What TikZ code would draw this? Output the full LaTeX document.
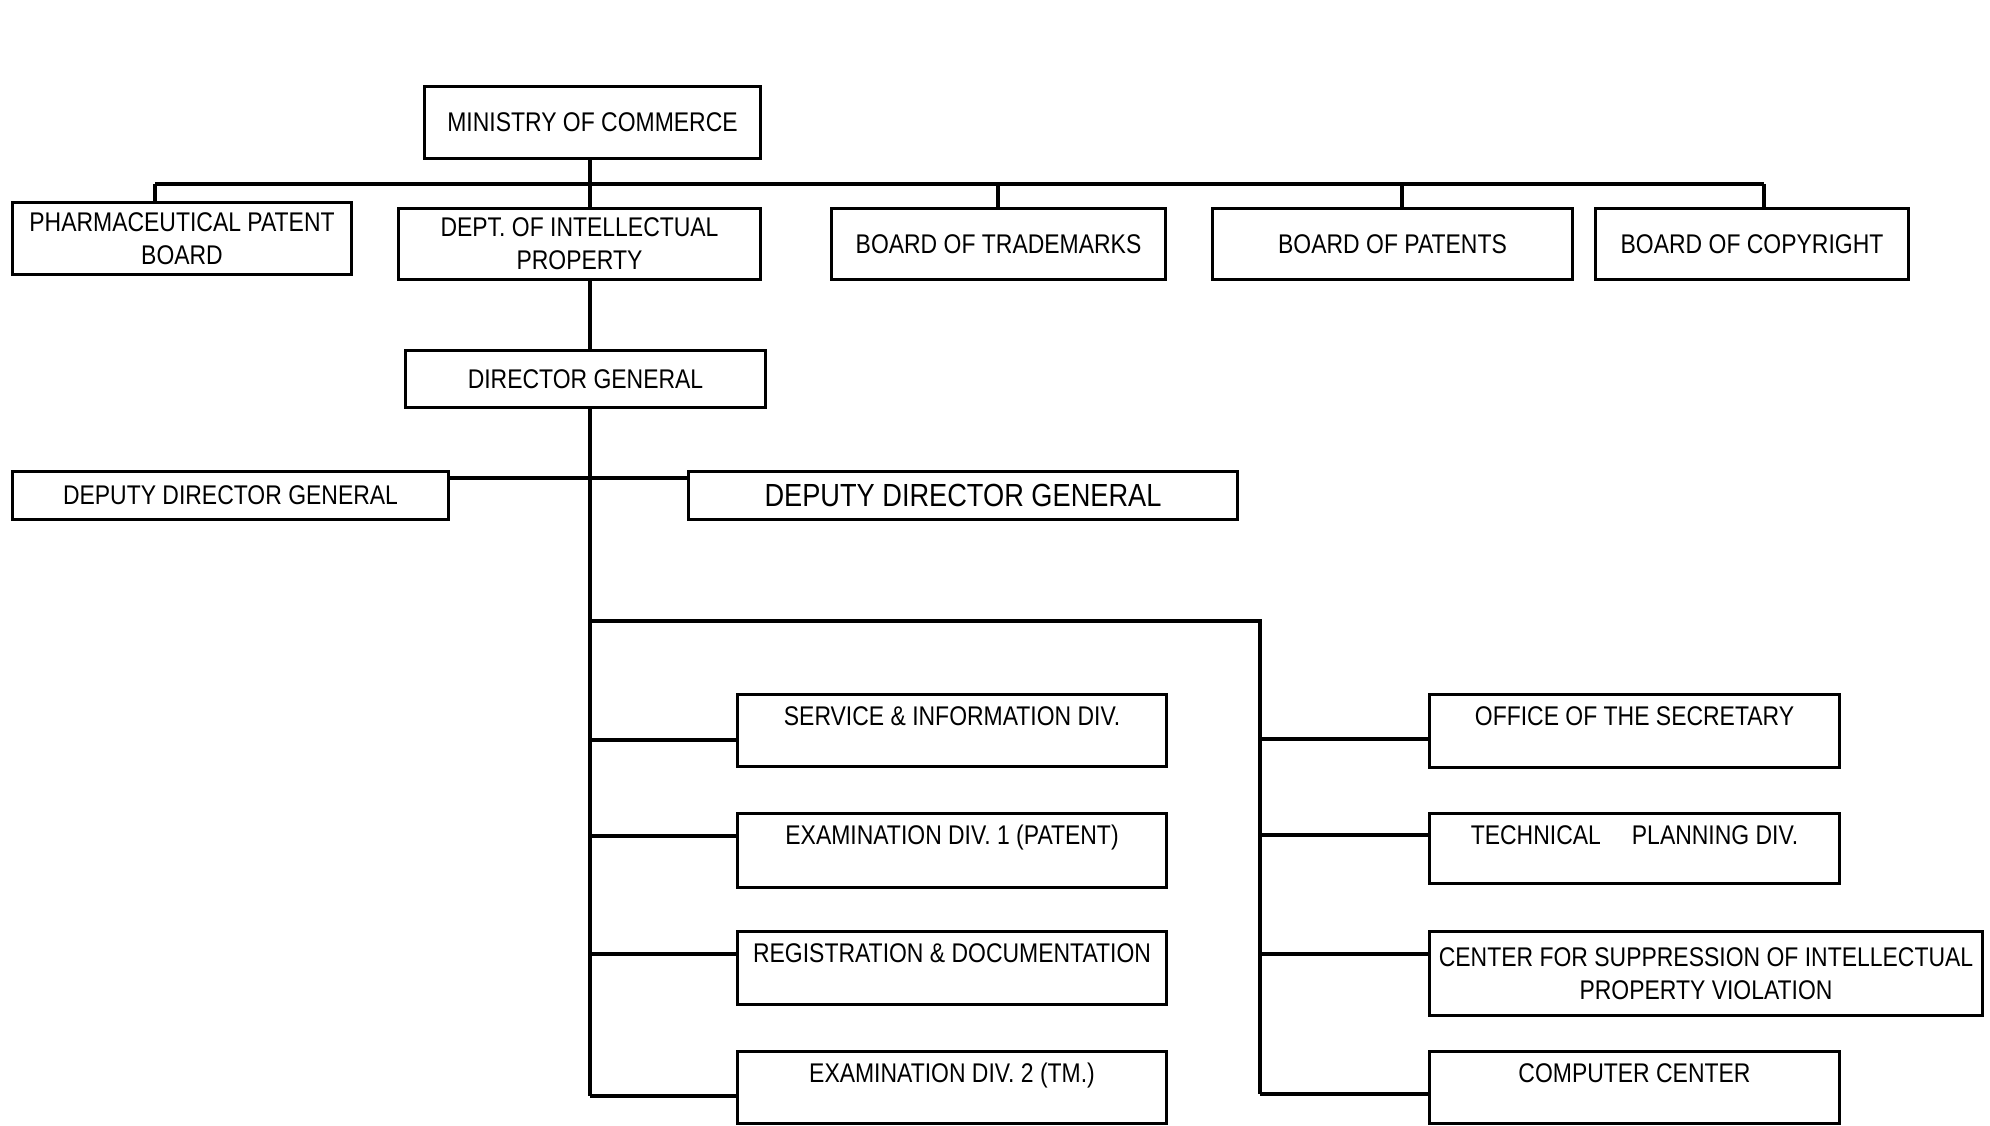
\documentclass[tikz,border=0pt]{standalone}
\usepackage{fontspec}
\newfontfamily\lab[FakeStretch=0.85]{Liberation Sans}
\begin{document}
\begin{tikzpicture}[x=0.5pt,y=-0.5pt,
  box/.style={draw, line width=1.5pt, inner sep=0pt, anchor=north west,
    font=\lab\fontsize{13.5}{16.5}\selectfont, align=center},
  divbox/.style={box, text height=15.5pt, text depth=#1},
  link/.style={line width=1.6pt}]
\useasboundingbox (0,0) rectangle (1990,1125);

% top level
\node[box, minimum width=168pt, minimum height=36pt] (min) at (423,85) {MINISTRY OF COMMERCE};
\node[box, minimum width=169.5pt, minimum height=36pt] (pharma) at (11,201) {PHARMACEUTICAL PATENT\\BOARD};
\node[box, minimum width=181pt, minimum height=35.5pt] (dept) at (397,207) {DEPT. OF INTELLECTUAL\\PROPERTY};
\node[box, minimum width=167pt, minimum height=35.5pt] (tm) at (830,207) {BOARD OF TRADEMARKS};
\node[box, minimum width=180pt, minimum height=35.5pt] (pat) at (1211,207) {BOARD OF PATENTS};
\node[box, minimum width=156.5pt, minimum height=35.5pt] (copy) at (1594,207) {BOARD OF COPYRIGHT};

% directors
\node[box, minimum width=180pt, minimum height=28.5pt] (dg) at (404,349) {DIRECTOR GENERAL};
\node[box, minimum width=218pt, minimum height=24pt] (dl) at (11,470) {DEPUTY DIRECTOR GENERAL};
\node[box, minimum width=274.5pt, minimum height=24pt, font=\lab\fontsize{16}{18}\selectfont] (dr) at (687,470) {DEPUTY DIRECTOR GENERAL};

% divisions, left column
\node[divbox=20.5pt, minimum width=214.5pt] (svc) at (736,693) {SERVICE \& INFORMATION DIV.};
\node[divbox=21.5pt, minimum width=214.5pt] (ex1) at (736,812) {EXAMINATION DIV. 1 (PATENT)};
\node[divbox=21pt, minimum width=214.5pt] (reg) at (736,930) {REGISTRATION \& DOCUMENTATION};
\node[divbox=20.5pt, minimum width=214.5pt] (ex2) at (736,1050) {EXAMINATION DIV. 2 (TM.)};

% divisions, right column
\node[divbox=21pt, minimum width=205pt] (off) at (1428,693) {OFFICE OF THE SECRETARY};
\node[divbox=19.5pt, minimum width=205pt] (tech) at (1428,812) {TECHNICAL\hspace{1.15em}PLANNING DIV.};
\node[box, minimum width=276.5pt, minimum height=42pt] (ctr) at (1428,930) {CENTER FOR SUPPRESSION OF INTELLECTUAL\\PROPERTY VIOLATION};
\node[divbox=20.5pt, minimum width=205pt] (comp) at (1428,1050) {COMPUTER CENTER};

% routing points
\coordinate (busL) at (155,184);
\coordinate (busR) at (1764,184);
\coordinate (spine) at (590,184);
\coordinate (tmx) at (998,184);
\coordinate (patx) at (1402,184);
\coordinate (dline) at (0,478);
\coordinate (jL) at (590,621);
\coordinate (jR) at (1260,621);
\coordinate (r1) at (0,740);
\coordinate (r2) at (0,836);
\coordinate (r3) at (0,954);
\coordinate (r4) at (0,1096);
\coordinate (q1) at (0,739);
\coordinate (q2) at (0,835);
\coordinate (q3) at (0,954);
\coordinate (q4) at (0,1094);

% ministry level
\draw[link] (busL) -- (busR);
\draw[link] (busL) -- (busL |- pharma.north);
\draw[link] (spine |- min.south) -- (spine |- dept.north);
\draw[link] (tmx) -- (tmx |- tm.north);
\draw[link] (patx) -- (patx |- pat.north);
\draw[link] (busR) -- (busR |- copy.north);

% department spine
\draw[link] (spine |- dept.south) -- (spine |- dg.north);
\draw[link] (spine |- dg.south) -- (spine |- r4);
\draw[link] (dl.east |- dline) -- (dr.west |- dline);

% division branches
\draw[link] (jL) -- (jR) -- (jR |- q4);
\draw[link] (spine |- r1) -- (svc.west |- r1);
\draw[link] (spine |- r2) -- (ex1.west |- r2);
\draw[link] (spine |- r3) -- (reg.west |- r3);
\draw[link] (spine |- r4) -- (ex2.west |- r4);
\draw[link] (jR |- q1) -- (off.west |- q1);
\draw[link] (jR |- q2) -- (tech.west |- q2);
\draw[link] (jR |- q3) -- (ctr.west |- q3);
\draw[link] (jR |- q4) -- (comp.west |- q4);
\end{tikzpicture}
\end{document}
